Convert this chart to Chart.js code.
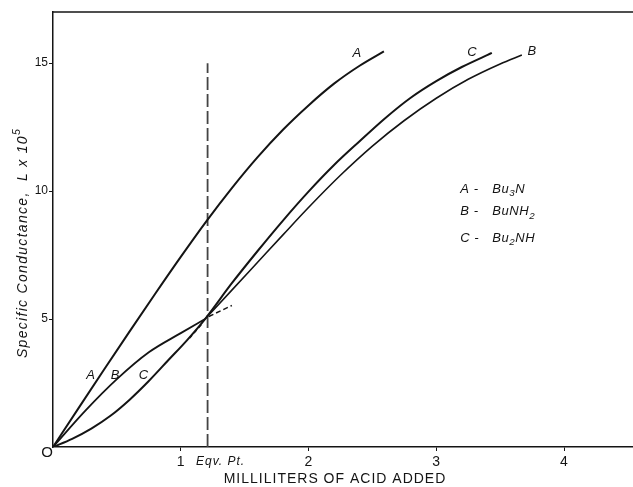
<!DOCTYPE html>
<html>
<head>
<meta charset="utf-8">
<script src="https://cdn.jsdelivr.net/npm/chart.js@4.4.1/dist/chart.umd.min.js"></script>
<style>
html,body{margin:0;padding:0;background:#fff;}
#wrap{width:633px;height:487px;}
</style>
</head>
<body>
<div id="wrap"><canvas id="c" width="633" height="487"></canvas></div>
<script>
// ---- data ----
const xTicks = [1, 2, 3, 4];
const yTicks = [5, 10, 15];
const eqvPoint = 1.21;            // ml at equivalence point
const eqvLineTop = 15;

const xA = [0, 0.2, 0.4, 0.6, 0.8, 1.0, 1.2, 1.4, 1.6, 1.8, 2.0, 2.2, 2.4, 2.59];
const yA = [0, 1.52, 3.03, 4.52, 5.99, 7.43, 8.82, 10.12, 11.32, 12.4, 13.35, 14.2, 14.9, 15.46];

const xBpre = [0, 0.25, 0.5, 0.75, 1.0, 1.19];
const yBpre = [0, 1.4, 2.65, 3.7, 4.45, 5.0];
const xBpost = [1.19, 1.4, 1.6, 1.8, 2.0, 2.25, 2.5, 2.75, 3.0, 3.25, 3.5, 3.67];
const yBpost = [5.0, 6.13, 7.21, 8.29, 9.36, 10.62, 11.76, 12.76, 13.63, 14.37, 14.97, 15.32];

const xC = [0, 0.15, 0.3, 0.45, 0.6, 0.75, 0.9, 1.05, 1.19, 1.4, 1.6, 1.8, 2.0, 2.2, 2.4, 2.6, 2.8, 3.0, 3.2, 3.435];
const yC = [0, 0.32, 0.72, 1.22, 1.85, 2.58, 3.38, 4.18, 5.0, 6.4, 7.65, 8.85, 9.98, 11.02, 11.95, 12.85, 13.65, 14.3, 14.85, 15.4];

// short dashed extrapolations at the equivalence point
const xExt1 = [1.22, 1.40];
const yExt1 = [5.1, 5.53];
const xExt2 = [1.16, 1.07];
const yExt2 = [4.78, 4.26];

const legendRows = [
  {key: 'A', parts: [['Bu',''],['3','sub'],['N','']]},
  {key: 'B', parts: [['BuNH',''],['2','sub']]},
  {key: 'C', parts: [['Bu',''],['2','sub'],['NH','']]}
];

function pts(xs, ys){ return xs.map((x,i)=>({x:x, y:ys[i]})); }

const INK = '#141414';
const FAM = '"Liberation Sans", Arial, sans-serif';

function drawRuns(ctx, runs, x, y, size, italic){
  let cx = x;
  for (const [t, kind] of runs){
    const s = kind ? size*0.75 : size;
    ctx.font = (italic ? 'italic ' : '') + s + 'px ' + FAM;
    const dy = kind === 'sub' ? size*0.35 : (kind === 'sup' ? -size*0.42 : 0);
    ctx.fillText(t, cx, y + dy);
    cx += ctx.measureText(t).width;
  }
  return cx;
}

const annot = {
  id: 'annot',
  afterDraw(chart){
    const {ctx, chartArea:a, scales:{x, y}} = chart;
    ctx.save();
    // top frame line
    ctx.strokeStyle = INK; ctx.lineWidth = 1.5;
    ctx.beginPath(); ctx.moveTo(a.left, a.top); ctx.lineTo(a.right, a.top); ctx.stroke();
    ctx.fillStyle = INK;
    ctx.textBaseline = 'middle';
    // curve labels
    ctx.textAlign = 'center';
    ctx.font = 'italic 13px ' + FAM;
    const lab = [['A',0.295,2.78],['B',0.486,2.78],['C',0.707,2.78],['A',2.378,15.37],['C',3.279,15.44],['B',3.749,15.46]];
    for (const [t,vx,vy] of lab) ctx.fillText(t, x.getPixelForValue(vx), y.getPixelForValue(vy));
    // legend
    ctx.textAlign = 'left';
    ctx.letterSpacing = '0.6px';
    const rowY = [10.08, 9.19, 8.16];
    legendRows.forEach((r, i) => {
      const py = y.getPixelForValue(rowY[i]);
      ctx.font = 'italic 13px ' + FAM;
      ctx.fillText(r.key + ' -', x.getPixelForValue(3.187), py);
      drawRuns(ctx, r.parts, x.getPixelForValue(3.438), py, 13, true);
    });
    // origin label and equivalence label
    ctx.letterSpacing = '0px';
    ctx.textAlign = 'center';
    ctx.font = '15px ' + FAM;
    ctx.fillText('O', a.left - 6, a.bottom + 6);
    ctx.letterSpacing = '1px';
    ctx.font = 'italic 12px ' + FAM;
    ctx.fillText('Eqv. Pt.', x.getPixelForValue(eqvPoint) + 13, a.bottom + 15);
    // x axis title
    ctx.font = '14px ' + FAM;
    ctx.fillText('MILLILITERS OF ACID ADDED', 335, 479);
    // y axis title
    ctx.letterSpacing = '1.3px';
    ctx.translate(23, 243);
    ctx.rotate(-Math.PI/2);
    ctx.textAlign = 'left';
    const runs = [['Specific Conductance,  L x 10',''],['5','sup']];
    let w = 0;
    for (const [t,k] of runs){ ctx.font = 'italic ' + (k?14*0.75:14) + 'px ' + FAM; w += ctx.measureText(t).width; }
    drawRuns(ctx, runs, -w/2, 0, 14, true);
    ctx.restore();
  }
};

const lineDs = (data, width) => ({
  data, borderColor: INK, borderWidth: width, pointRadius: 0,
  cubicInterpolationMode: 'monotone', fill: false
});

new Chart(document.getElementById('c'), {
  type: 'line',
  data: {
    datasets: [
      lineDs(pts(xA, yA), 2),
      lineDs(pts(xBpre, yBpre), 1.8),
      lineDs(pts(xBpost, yBpost), 1.6),
      lineDs(pts(xC, yC), 2),
      {data: pts([eqvPoint, eqvPoint], [0, eqvLineTop]), borderColor: '#444', borderWidth: 1.8,
       borderDash: [13, 4], pointRadius: 0, tension: 0},
      {data: pts(xExt1, yExt1), borderColor: INK, borderWidth: 1.5, borderDash: [5, 3], pointRadius: 0, tension: 0},
      {data: pts(xExt2, yExt2), borderColor: INK, borderWidth: 1.5, borderDash: [4, 3], pointRadius: 0, tension: 0}
    ]
  },
  options: {
    responsive: false,
    devicePixelRatio: 1,
    animation: false,
    layout: {padding: {top: 12, right: 0, left: 0, bottom: 0}},
    plugins: {legend: {display: false}, tooltip: {enabled: false}},
    scales: {
      x: {
        type: 'linear', min: 0, max: 4.54,
        afterBuildTicks: s => { s.ticks = xTicks.map(v => ({value: v})); },
        afterFit: s => { s.height = 40; },
        grid: {drawOnChartArea: false, drawTicks: true, tickLength: 4, color: INK},
        border: {display: true, color: INK, width: 1.5},
        ticks: {color: INK, font: {size: 14, family: FAM}, padding: 3, maxRotation: 0, autoSkip: false}
      },
      y: {
        type: 'linear', min: 0, max: 17,
        afterBuildTicks: s => { s.ticks = yTicks.map(v => ({value: v})); },
        afterFit: s => { s.width = 53; },
        grid: {drawOnChartArea: false, drawTicks: true, tickLength: 4, color: INK},
        border: {display: true, color: INK, width: 1.5},
        ticks: {color: INK, font: {size: 12, family: FAM}, padding: 1, autoSkip: false}
      }
    }
  },
  plugins: [annot]
});
</script>
</body>
</html>
